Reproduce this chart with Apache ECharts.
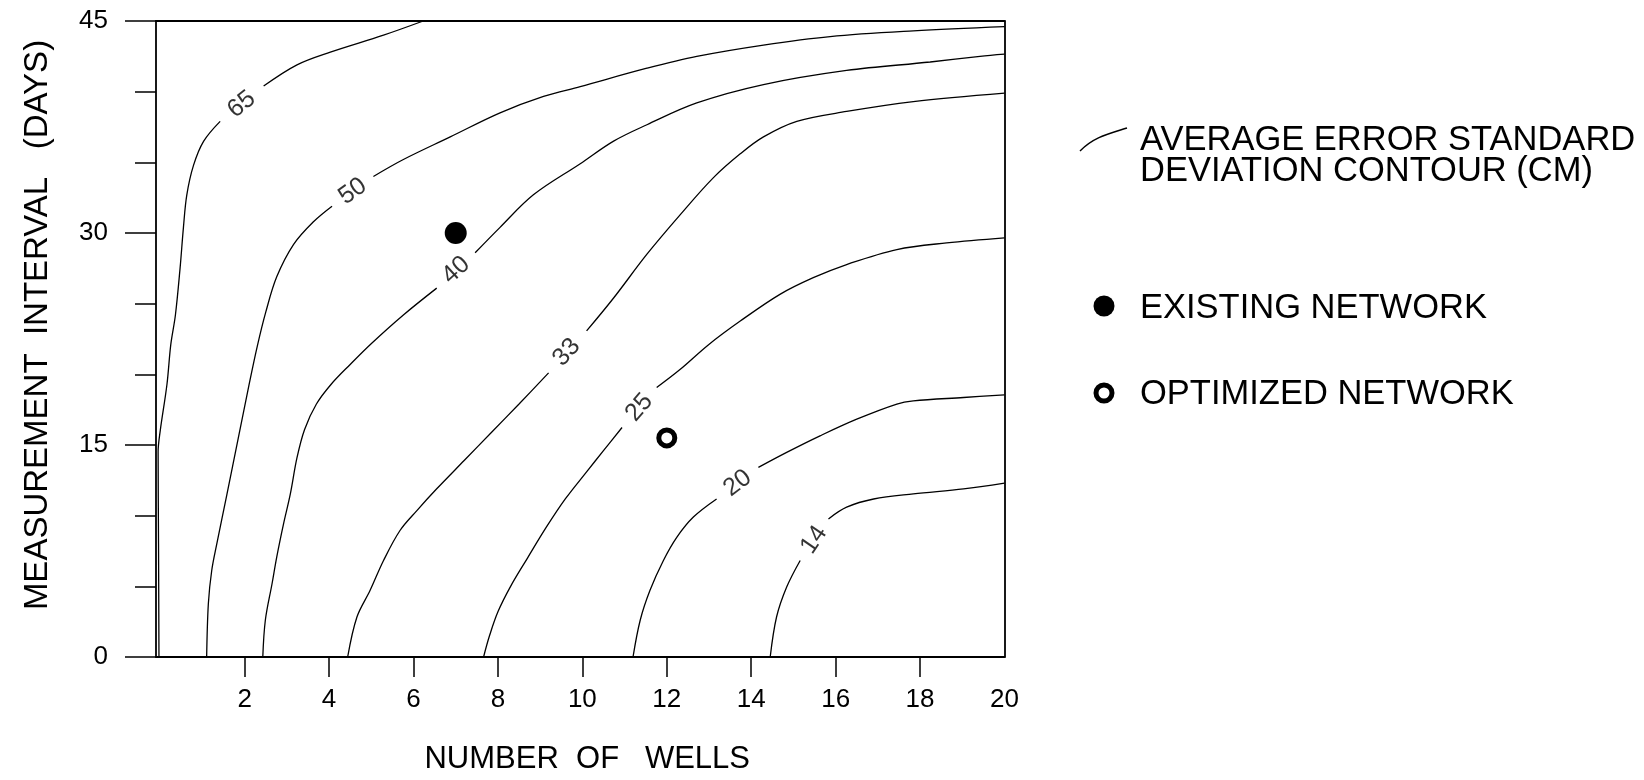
<!DOCTYPE html>
<html>
<head>
<meta charset="utf-8">
<script src="https://cdn.jsdelivr.net/npm/echarts@6/dist/echarts.min.js"></script>
<style>
  html, body { margin: 0; padding: 0; background: #fff; }
  #chart { width: 1644px; height: 780px; }
</style>
</head>
<body>
<div id="chart"></div>
<script>
// Axis ticks and labels
const xTickValues = [2, 4, 6, 8, 10, 12, 14, 16, 18];
const xLabelValues = [2, 4, 6, 8, 10, 12, 14, 16, 18, 20];
const yLabelValues = [0, 15, 30, 45];

// Contour levels (cm); each path is split in two where its level label sits
const levels = [65, 50, 40, 33, 25, 20, 14];

const c65Lower = [[-0.03, 0], [-0.04, 8], [-0.05, 14.5], [0.0, 16.0], [0.16, 19.3], [0.25, 22.1], [0.36, 24.2], [0.47, 27.5], [0.55, 30.4], [0.63, 32.7], [0.79, 34.8], [1.03, 36.5], [1.42, 37.9]];
const c65Upper = [[2.45, 40.4], [3.24, 41.9], [4.03, 42.8], [5.29, 44.0], [6.23, 45]];

const c50Lower = [[1.1, 0], [1.14, 3.77], [1.22, 6.12], [1.34, 8.0], [1.58, 11.5], [1.85, 15.5], [2.1, 19.2], [2.3, 22.0], [2.5, 24.4], [2.76, 26.9], [3.16, 29.2], [3.63, 30.8], [4.07, 31.9]];
const c50Upper = [[5.05, 34.0], [5.76, 35.2], [6.87, 36.8], [8.05, 38.5], [9.08, 39.66], [9.95, 40.36], [11.53, 41.66], [12.71, 42.5], [14.29, 43.3], [15.87, 43.9], [17.84, 44.3], [20, 44.6]];

const c40Lower = [[2.43, 0], [2.49, 2.6], [2.65, 5.2], [2.76, 7.07], [2.92, 9.4], [3.08, 11.5], [3.24, 14.1], [3.42, 16.1], [3.7, 17.9], [4.05, 19.3], [4.5, 20.7], [5.01, 22.2], [5.76, 24.2], [6.55, 26.1]];
const c40Upper = [[7.46, 28.6], [8.05, 30.4], [8.84, 32.7], [9.95, 34.9], [10.74, 36.5], [11.53, 37.66], [12.71, 39.2], [14.29, 40.5], [16.26, 41.5], [18.24, 42.1], [19.42, 42.5], [20, 42.65]];

const c33Lower = [[4.44, 0], [4.66, 2.83], [4.97, 4.7], [5.29, 6.83], [5.68, 8.95], [6.08, 10.36], [6.55, 11.9], [7.2, 13.9], [7.85, 15.9], [8.5, 17.9], [9.2, 20.1]];
const c33Upper = [[10.1, 23.07], [10.74, 25.4], [11.53, 28.5], [12.32, 31.3], [13.1, 33.9], [13.74, 35.6], [14.29, 36.8], [15.08, 37.9], [16.26, 38.6], [17.84, 39.3], [20, 39.9]];

const c25Lower = [[7.66, 0], [7.8, 1.5], [8.0, 3.2], [8.3, 5.0], [8.7, 7.0], [9.15, 9.2], [9.6, 11.2], [10.1, 13.1], [10.5, 14.6], [10.94, 16.24]];
const c25Upper = [[11.76, 19.07], [12.32, 20.36], [12.99, 22.1], [13.74, 23.77], [14.68, 25.66], [15.47, 26.84], [16.26, 27.77], [17.45, 28.83], [18.63, 29.3], [20, 29.66]];

const c20Lower = [[11.2, 0], [11.37, 2.6], [11.6, 4.7], [11.92, 6.83], [12.24, 8.48], [12.63, 9.9], [13.18, 11.18]];
const c20Upper = [[14.17, 13.42], [14.84, 14.48], [15.63, 15.65], [16.5, 16.83], [17.45, 17.9], [17.84, 18.12], [19.03, 18.36], [20, 18.55]];

const c14Lower = [[14.45, 0], [14.6, 2.83], [14.84, 4.95], [15.16, 6.83]];
const c14Upper = [[15.83, 9.77], [16.26, 10.6], [16.9, 11.18], [17.84, 11.54], [19.03, 11.89], [20, 12.3]];

// Where each level label sits on its contour (same order as levels)
const labelPoints = [[1.93, 39.1], [4.56, 32.95], [7.01, 27.37], [9.63, 21.55], [11.35, 17.66], [13.68, 12.3], [15.49, 8.29]];

// Monitoring networks: [number of wells, measurement interval in days]
const existingNetwork = [[7, 30]];
const optimizedNetwork = [[12, 15.5]];

const contourPaths = {
  65: [c65Lower, c65Upper],
  50: [c50Lower, c50Upper],
  40: [c40Lower, c40Upper],
  33: [c33Lower, c33Upper],
  25: [c25Lower, c25Upper],
  20: [c20Lower, c20Upper],
  14: [c14Lower, c14Upper]
};

const FONT = '"Liberation Sans", Arial, Helvetica, sans-serif';
const INK = '#000';

const chart = echarts.init(document.getElementById('chart'), null, { renderer: 'canvas' });

const series = [];
levels.forEach(function (lv) {
  contourPaths[lv].forEach(function (seg, k) {
    series.push({
      type: 'line',
      name: 'contour ' + lv,
      id: 'contour-' + lv + '-' + k,
      data: seg,
      smooth: 0.35,
      symbol: 'none',
      showSymbol: false,
      silent: true,
      lineStyle: { color: INK, width: 1.3 },
      z: 2
    });
  });
});

function labelData(rotations) {
  return levels.map(function (lv, i) {
    return {
      name: String(lv),
      value: labelPoints[i],
      label: { rotate: rotations ? rotations[i] : 0 }
    };
  });
}

series.push({
  type: 'scatter',
  id: 'contour-labels',
  data: labelData(null),
  symbolSize: 0.1,
  silent: true,
  itemStyle: { color: 'rgba(0,0,0,0)' },
  label: {
    show: true,
    position: 'inside',
    formatter: function (p) { return p.name; },
    color: INK,
    fontSize: 25,
    fontFamily: FONT
  },
  z: 3
});

series.push({
  type: 'scatter',
  id: 'existing',
  name: 'EXISTING NETWORK',
  data: existingNetwork,
  symbol: 'circle',
  symbolSize: 22,
  itemStyle: { color: INK, opacity: 1 },
  z: 4
});

series.push({
  type: 'scatter',
  id: 'optimized',
  name: 'OPTIMIZED NETWORK',
  data: optimizedNetwork,
  symbol: 'circle',
  symbolSize: 16,
  itemStyle: { color: '#fff', borderColor: INK, borderWidth: 5, opacity: 1 },
  z: 4
});

const axisLine = { show: true, onZero: false, lineStyle: { color: INK, width: 1.8 } };

const option = {
  animation: false,
  backgroundColor: '#fff',
  grid: { left: 156, right: 639.5, top: 21, bottom: 121.6, containLabel: false },
  xAxis: [
    {
      type: 'value',
      position: 'bottom',
      min: -0.1,
      max: 20,
      axisLine: axisLine,
      axisTick: {
        show: true, inside: false, length: 20,
        customValues: xTickValues,
        lineStyle: { color: INK, width: 1.5 }
      },
      axisLabel: {
        show: true, margin: 30,
        customValues: xLabelValues,
        color: INK, fontSize: 26, fontFamily: FONT
      },
      splitLine: { show: false },
      name: 'NUMBER  OF   WELLS',
      nameLocation: 'middle',
      nameGap: 87,
      nameTextStyle: { color: INK, fontSize: 31, fontFamily: FONT, padding: [0, 0, 0, 14] }
    },
    {
      type: 'value',
      position: 'top',
      min: -0.1,
      max: 20,
      axisLine: axisLine,
      axisTick: { show: false },
      axisLabel: { show: false },
      splitLine: { show: false }
    }
  ],
  yAxis: [
    {
      type: 'value',
      position: 'left',
      min: 0,
      max: 45,
      interval: 15,
      axisLine: axisLine,
      axisTick: { show: true, inside: false, length: 31, lineStyle: { color: INK, width: 1.5 } },
      minorTick: { show: true, splitNumber: 3, length: 21, lineStyle: { color: INK, width: 1.5 } },
      axisLabel: { show: true, margin: 48, customValues: yLabelValues, color: INK, fontSize: 26, fontFamily: FONT },
      splitLine: { show: false },
      minorSplitLine: { show: false },
      name: 'MEASUREMENT  INTERVAL   (DAYS)',
      nameLocation: 'middle',
      nameRotate: 90,
      nameGap: 102,
      nameTextStyle: { color: INK, fontSize: 33, fontFamily: FONT, padding: [0, 0, 0, 28] }
    },
    {
      type: 'value',
      position: 'right',
      min: 0,
      max: 45,
      axisLine: axisLine,
      axisTick: { show: false },
      axisLabel: { show: false },
      splitLine: { show: false }
    }
  ],
  graphic: [
    {
      type: 'bezierCurve',
      shape: { x1: 1080, y1: 151, cpx1: 1094, cpy1: 137, cpx2: 1108, cpy2: 134, x2: 1127, y2: 128 },
      style: { stroke: INK, lineWidth: 1.5, fill: null }
    },
    {
      type: 'text', x: 1140, y: 140,
      style: { text: 'AVERAGE ERROR STANDARD', fill: INK, font: '34.5px ' + FONT, verticalAlign: 'middle' }
    },
    {
      type: 'text', x: 1140, y: 171,
      style: { text: 'DEVIATION CONTOUR (CM)', fill: INK, font: '34.5px ' + FONT, verticalAlign: 'middle' }
    },
    {
      type: 'circle',
      shape: { cx: 1104, cy: 306, r: 10.5 },
      style: { fill: INK }
    },
    {
      type: 'text', x: 1140, y: 308,
      style: { text: 'EXISTING NETWORK', fill: INK, font: '34.5px ' + FONT, verticalAlign: 'middle' }
    },
    {
      type: 'circle',
      shape: { cx: 1104, cy: 393, r: 8 },
      style: { fill: '#fff', stroke: INK, lineWidth: 5 }
    },
    {
      type: 'text', x: 1140, y: 394,
      style: { text: 'OPTIMIZED NETWORK', fill: INK, font: '34.5px ' + FONT, verticalAlign: 'middle' }
    }
  ],
  series: series
};

chart.setOption(option);

// Turn each level label along its contour, using the direction across the label gap
const finder = { xAxisIndex: 0, yAxisIndex: 0 };
const rotations = levels.map(function (lv) {
  const lower = contourPaths[lv][0];
  const upper = contourPaths[lv][1];
  const a = chart.convertToPixel(finder, lower[lower.length - 1]);
  const b = chart.convertToPixel(finder, upper[0]);
  return Math.atan2(a[1] - b[1], b[0] - a[0]) * 180 / Math.PI;
});

chart.setOption({ series: [{ id: 'contour-labels', data: labelData(rotations) }] });
</script>
</body>
</html>
